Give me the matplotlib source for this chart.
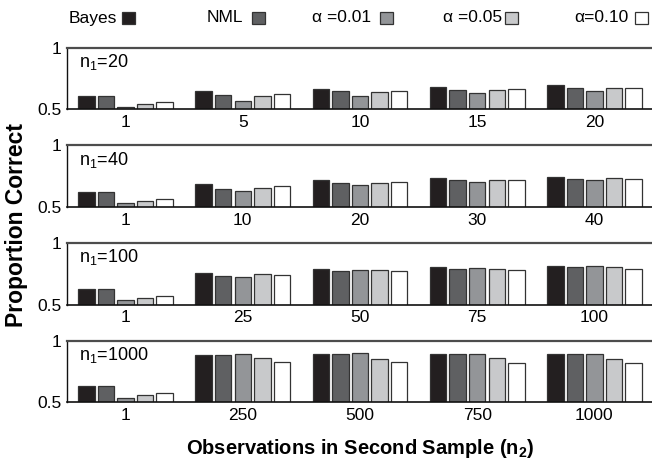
import matplotlib
matplotlib.use("Agg")
import matplotlib.pyplot as plt
from matplotlib.patches import Rectangle
import numpy as np

plt.rcParams['font.family'] = ['Liberation Sans', 'DejaVu Sans']
plt.rcParams['mathtext.fontset'] = 'custom'
plt.rcParams['mathtext.rm'] = 'Liberation Sans'
plt.rcParams['mathtext.it'] = 'Liberation Sans:italic'
plt.rcParams['mathtext.bf'] = 'Liberation Sans:bold'

series = ['Bayes', 'NML', 'α =0.01', 'α =0.05', 'α=0.10']
colors = ['#231f20', '#5f6062', '#939598', '#c8c9cb', '#ffffff']

n1_values = [20, 40, 100, 1000]
n2_labels = [
    ['1', '5', '10', '15', '20'],
    ['1', '10', '20', '30', '40'],
    ['1', '25', '50', '75', '100'],
    ['1', '250', '500', '750', '1000'],
]

# values[panel][group] = [Bayes, NML, a.01, a.05, a.10]
panel_n20 = [
    [0.608, 0.608, 0.519, 0.543, 0.557],
    [0.646, 0.614, 0.570, 0.608, 0.622],
    [0.668, 0.646, 0.606, 0.641, 0.652],
    [0.681, 0.654, 0.630, 0.660, 0.668],
    [0.696, 0.670, 0.646, 0.670, 0.673],
]
panel_n40 = [
    [0.618, 0.618, 0.529, 0.548, 0.567],
    [0.687, 0.650, 0.628, 0.658, 0.668],
    [0.717, 0.695, 0.676, 0.698, 0.700],
    [0.733, 0.717, 0.703, 0.719, 0.717],
    [0.746, 0.725, 0.722, 0.733, 0.727],
]
panel_n100 = [
    [0.626, 0.626, 0.535, 0.556, 0.573],
    [0.755, 0.731, 0.728, 0.745, 0.739],
    [0.788, 0.774, 0.777, 0.780, 0.769],
    [0.804, 0.793, 0.798, 0.793, 0.780],
    [0.815, 0.809, 0.812, 0.804, 0.785],
]
panel_n1000 = [
    [0.630, 0.630, 0.537, 0.558, 0.577],
    [0.884, 0.884, 0.892, 0.857, 0.825],
    [0.892, 0.892, 0.899, 0.854, 0.825],
    [0.894, 0.894, 0.894, 0.857, 0.823],
    [0.894, 0.894, 0.894, 0.854, 0.820],
]
panels = [panel_n20, panel_n40, panel_n100, panel_n1000]

W, H = 652, 461
fig = plt.figure(figsize=(W / 100, H / 100), dpi=100)

left_px, right_px = 67, 653
panel_top_px = [47.7, 145.4, 243.0, 340.7]
panel_h_px = 61.6

pitch = 0.167
width = 0.141
FS = 12.5

for p, (vals, labels, n1) in enumerate(zip(panels, n2_labels, n1_values)):
    top = panel_top_px[p]
    ax = fig.add_axes([left_px / W, 1 - (top + panel_h_px) / H,
                       (right_px - left_px) / W, panel_h_px / H])
    vals = np.array(vals)
    groups = np.arange(1, len(labels) + 1)
    for i in range(len(series)):
        ax.bar(groups + (i - 2) * pitch, vals[:, i], width=width,
               color=colors[i], edgecolor='#333333', linewidth=0.9, zorder=2)
    ax.set_xlim(0.5, 5.5)
    ax.set_ylim(0.5, 1.0)
    ax.set_yticks([0.5, 1.0])
    ax.set_yticklabels(['0.5', '1'])
    ax.set_xticks(groups)
    ax.set_xticklabels(labels)
    ax.tick_params(axis='both', length=0, labelsize=FS)
    ax.tick_params(axis='y', pad=4)
    ax.tick_params(axis='x', pad=4)
    ax.spines['right'].set_visible(False)
    ax.spines['top'].set_color('#4d4d4d')
    ax.spines['top'].set_linewidth(1.6)
    ax.spines['left'].set_color('#111111')
    ax.spines['left'].set_linewidth(1.0)
    ax.spines['bottom'].set_color('#111111')
    ax.spines['bottom'].set_linewidth(1.2)
    ax.spines['bottom'].set_zorder(3)
    ax.text(0.020, 0.93, r'n$_\mathregular{1}$=' + str(n1), transform=ax.transAxes,
            ha='left', va='top', fontsize=13)

# legend row
leg_y = 18
text_x = [69, 207, 312, 443, 574]
sq_x = [122, 252, 380, 505, 635]
sq = 12.5
for name, c, tx, sx in zip(series, colors, text_x, sq_x):
    fig.text(tx / W, 1 - leg_y / H, name, ha='left', va='center', fontsize=FS)
    fig.patches.append(Rectangle((sx / W, 1 - (leg_y + sq / 2) / H), sq / W, sq / H,
                                 transform=fig.transFigure, facecolor=c,
                                 edgecolor='#333333', linewidth=0.9))

fig.text(17 / W, 1 - 225 / H, 'Proportion Correct', rotation=90, ha='center',
         va='center', fontsize=16.5, fontweight='bold')
fig.text(360 / W, 1 - 448 / H, r'Observations in Second Sample (n$_\mathbf{2}$)',
         ha='center', va='center', fontsize=14.5, fontweight='bold')

fig.savefig('out.png', dpi=100)
